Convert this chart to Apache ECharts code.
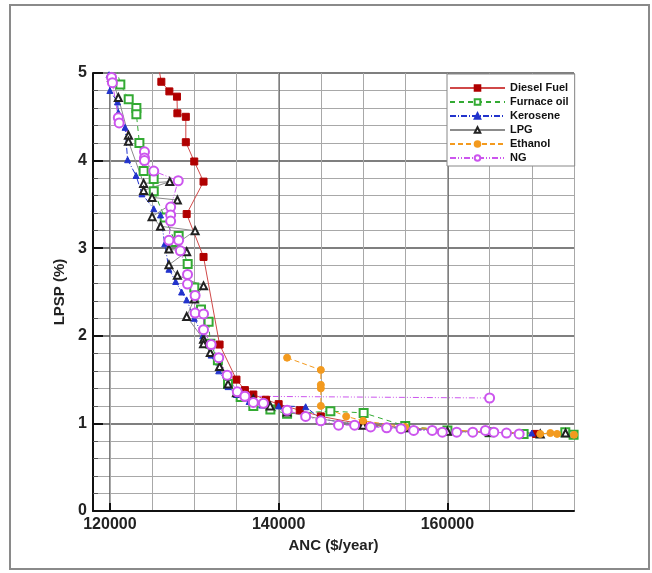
<!DOCTYPE html>
<html>
<head>
<meta charset="utf-8">
<script src="https://cdn.jsdelivr.net/npm/echarts@6/dist/echarts.min.js"></script>
<style>
html,body{margin:0;padding:0;background:#fff;}
#chart{width:652px;height:573px;}
</style>
</head>
<body>
<div id="chart"></div>
<script>
// ---- data (ANC $/year, LPSP %) ----
const seriesNames = ['Diesel Fuel', 'Furnace oil', 'Kerosene', 'LPG', 'Ethanol', 'NG'];

const dieselFuel = [[125700,5.10],[126100,4.90],[127050,4.79],[127950,4.73],[128000,4.54],[129000,4.50],[129000,4.21],[130000,3.99],[131100,3.76],[129100,3.39],[131100,2.90],[133000,1.90],[135000,1.50],[136000,1.38],[137000,1.33],[138500,1.27],[140000,1.22],[142500,1.15],[145000,1.08],[150000,0.99],[155000,0.95],[160000,0.92],[165000,0.90],[170500,0.88]];

const furnaceOil = [[120800,5.05],[121240,4.87],[122230,4.70],[123140,4.60],[123140,4.53],[123500,4.20],[124000,3.88],[125190,3.79],[125200,3.65],[126500,3.35],[127760,3.07],[128150,3.14],[129220,2.82],[130000,2.55],[130800,2.30],[131700,2.16],[131910,1.91],[132800,1.72],[134000,1.45],[135500,1.30],[137000,1.20],[139020,1.16],[141000,1.11],[146130,1.14],[150070,1.12],[155000,0.97],[160000,0.92],[165000,0.90],[169030,0.88],[173970,0.90],[174950,0.87]];

const kerosene = [[119900,4.98],[120000,4.80],[120900,4.67],[121000,4.55],[121800,4.38],[122100,4.01],[123100,3.83],[123800,3.62],[125200,3.45],[126000,3.38],[126500,3.05],[127000,2.76],[127800,2.62],[128500,2.50],[129100,2.41],[130000,2.20],[131000,2.00],[132000,1.78],[132900,1.60],[134000,1.42],[135000,1.33],[136500,1.25],[138000,1.21],[140000,1.20],[143200,1.19],[145000,1.05],[150000,0.98],[155000,0.94],[160000,0.91],[165000,0.90],[170000,0.89]];

const lpg = [[120200,4.95],[121000,4.72],[122200,4.29],[122200,4.22],[124000,3.74],[127100,3.76],[124000,3.66],[125000,3.58],[128000,3.55],[125000,3.36],[126000,3.25],[130100,3.20],[127000,2.99],[129100,2.96],[127000,2.81],[128000,2.69],[131100,2.57],[130000,2.42],[129100,2.22],[131100,1.96],[131100,1.91],[131900,1.81],[133000,1.65],[134000,1.45],[135000,1.35],[137000,1.28],[139000,1.20],[141000,1.13],[145000,1.05],[150000,0.98],[155000,0.95],[160000,0.91],[165000,0.90],[171000,0.88],[174000,0.89]];

const ethanol = [[141000,1.75],[145000,1.61],[145000,1.44],[145000,1.40],[145000,1.20],[148000,1.08],[150000,1.03],[155000,0.96],[163000,0.91],[171000,0.88],[172200,0.89],[173000,0.88],[175000,0.87]];

const ng = [[120200,4.95],[120300,4.89],[121000,4.49],[121100,4.43],[124100,4.10],[124100,4.03],[124100,4.00],[125200,3.88],[128100,3.77],[127200,3.47],[127200,3.38],[127200,3.31],[127000,3.09],[128150,3.09],[128350,2.97],[129200,2.70],[129200,2.59],[130100,2.46],[130100,2.26],[131100,2.25],[131100,2.07],[132000,1.90],[132900,1.75],[133900,1.55],[135100,1.36],[136000,1.31],[137000,1.24],[138200,1.23],[141000,1.15],[143200,1.08],[145000,1.03],[147100,0.98],[149000,0.98],[150900,0.96],[152800,0.95],[154500,0.94],[156000,0.92],[158200,0.92],[159400,0.90],[161100,0.90],[163000,0.90],[164500,0.92],[165500,0.90],[167000,0.89],[168500,0.88],['-','-'],[136000,1.31],[165000,1.29]];

const xMajorTicks = [120000,140000,160000];
const xMinorTicks = [120000,125000,130000,135000,140000,145000,150000,155000,160000,165000,170000,175000];
const yTicks = [0,1,2,3,4,5];

// ---- chart ----
const chart = echarts.init(document.getElementById('chart'), null, {renderer:'canvas'});
const FONT = 'Liberation Sans, Arial, sans-serif';

function mk(name, data, symbol, size, itemColor, lineColor, dash) {
  return {
    name: name, type: 'line', data: data, symbol: symbol, symbolSize: size,
    connectNulls: false,
    itemStyle: {color: itemColor, borderColor: itemColor, borderWidth: 1},
    lineStyle: {color: lineColor, width: 1, type: dash},
    emphasis: {disabled: true}
  };
}

chart.setOption({
  animation: false,
  backgroundColor: '#fff',
  graphic: [{
    type: 'rect', shape: {x: 10, y: 5, width: 639, height: 564},
    style: {fill: 'none', stroke: '#8a8a8a', lineWidth: 2}, z: -1
  }],
  grid: {left: 93, right: 78, top: 73, bottom: 62, containLabel: false},
  legend: {
    orient: 'vertical', left: 447, top: 74,
    data: seriesNames,
    itemWidth: 55, itemHeight: 7, itemGap: 0,
    padding: [7, 6, 1, 2],
    backgroundColor: '#fff', borderColor: '#888', borderWidth: 1,
    textStyle: {fontFamily: FONT, fontSize: 11, fontWeight: 'bold', color: '#111', lineHeight: 14},
    z: 10
  },
  xAxis: [{
    type: 'value', min: 118000, max: 175000, position: 'bottom',
    name: 'ANC ($/year)', nameLocation: 'middle', nameGap: 24,
    nameTextStyle: {fontFamily: FONT, fontSize: 15, fontWeight: 'bold', color: '#222'},
    axisLine: {show: true, onZero: false, lineStyle: {color: '#111', width: 2}},
    axisTick: {show: true, inside: true, length: 8, customValues: xMajorTicks, lineStyle: {color: '#111', width: 2}},
    axisLabel: {show: true, customValues: xMajorTicks, margin: 6, fontFamily: FONT, fontSize: 16, fontWeight: 'bold', color: '#222',
      formatter: function (v) { return String(v); }},
    splitLine: {show: true, lineStyle: {color: '#555', width: 1.5}}
  }, {
    type: 'value', min: 118000, max: 175000, position: 'top',
    axisLine: {show: false}, axisLabel: {show: false},
    axisTick: {show: false, customValues: xMinorTicks},
    splitLine: {show: true, lineStyle: {color: '#a8a8a8', width: 1}}
  }],
  yAxis: {
    type: 'value', min: 0, max: 5, interval: 1,
    name: 'LPSP (%)', nameLocation: 'middle', nameGap: 20, nameRotate: 90,
    nameTextStyle: {fontFamily: FONT, fontSize: 15, fontWeight: 'bold', color: '#222'},
    axisLine: {show: true, onZero: false, lineStyle: {color: '#111', width: 2}},
    axisTick: {show: true, inside: true, length: 10, lineStyle: {color: '#111', width: 2}},
    minorTick: {show: true, splitNumber: 5, length: 5, lineStyle: {color: '#555'}},
    axisLabel: {margin: 6, fontFamily: FONT, fontSize: 16, fontWeight: 'bold', color: '#222',
      formatter: function (v) { return yTicks.indexOf(v) >= 0 ? String(v) : ''; }},
    splitLine: {show: true, lineStyle: {color: '#555', width: 1.5}},
    minorSplitLine: {show: true, lineStyle: {color: '#a8a8a8', width: 1}}
  },
  series: [
    mk('Diesel Fuel', dieselFuel, 'rect', 7, '#b00000', '#d04848', 'solid'),
    mk('Furnace oil', furnaceOil, 'emptyRect', 8, '#33aa33', '#33aa33', [5, 4]),
    mk('Kerosene', kerosene, 'triangle', 6, '#2233cc', '#2233cc', [6, 2, 1, 2]),
    mk('LPG', lpg, 'emptyTriangle', 7, '#222222', '#8c8c8c', 'solid'),
    mk('Ethanol', ethanol, 'circle', 7, '#f39a1e', '#f39a1e', [5, 3]),
    mk('NG', ng, 'emptyCircle', 9, '#cc55ee', '#cc55ee', [6, 2, 1, 2, 1, 2])
  ]
});
</script>
</body>
</html>
